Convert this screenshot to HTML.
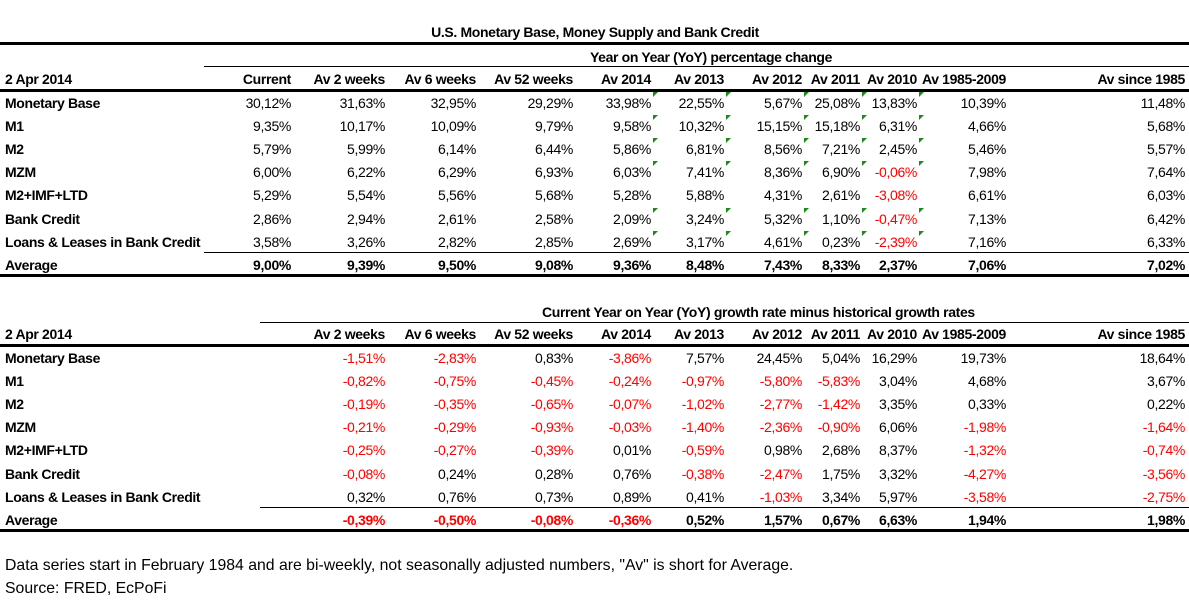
<!DOCTYPE html>
<html><head><meta charset="utf-8">
<style>
body{margin:0;background:#fff;}
#root{position:relative;width:1189px;height:601px;overflow:hidden;font-family:"Liberation Sans",sans-serif;font-size:14px;color:#000;letter-spacing:-0.35px;}
.t{position:absolute;white-space:nowrap;line-height:16px;}
.b{font-weight:bold;}
.r{color:#ff0000;}
.ln{position:absolute;background:#000;}
.tri{position:absolute;width:0;height:0;border-top:5px solid #1a8a1a;border-right:5px solid transparent;}
</style></head>
<body>
<div id="root"></div>
<script>
const columns1=["Current","Av 2 weeks","Av 6 weeks","Av 52 weeks","Av 2014","Av 2013","Av 2012","Av 2011","Av 2010","Av 1985-2009","Av since 1985"];
const columns2=columns1.slice(1);
const rowLabels=["Monetary Base","M1","M2","MZM","M2+IMF+LTD","Bank Credit","Loans & Leases in Bank Credit","Average"];
const values1=[
["30,12%","31,63%","32,95%","29,29%","33,98%","22,55%","5,67%","25,08%","13,83%","10,39%","11,48%"],
["9,35%","10,17%","10,09%","9,79%","9,58%","10,32%","15,15%","15,18%","6,31%","4,66%","5,68%"],
["5,79%","5,99%","6,14%","6,44%","5,86%","6,81%","8,56%","7,21%","2,45%","5,46%","5,57%"],
["6,00%","6,22%","6,29%","6,93%","6,03%","7,41%","8,36%","6,90%","-0,06%","7,98%","7,64%"],
["5,29%","5,54%","5,56%","5,68%","5,28%","5,88%","4,31%","2,61%","-3,08%","6,61%","6,03%"],
["2,86%","2,94%","2,61%","2,58%","2,09%","3,24%","5,32%","1,10%","-0,47%","7,13%","6,42%"],
["3,58%","3,26%","2,82%","2,85%","2,69%","3,17%","4,61%","0,23%","-2,39%","7,16%","6,33%"],
["9,00%","9,39%","9,50%","9,08%","9,36%","8,48%","7,43%","8,33%","2,37%","7,06%","7,02%"]];
const values2=[
["-1,51%","-2,83%","0,83%","-3,86%","7,57%","24,45%","5,04%","16,29%","19,73%","18,64%"],
["-0,82%","-0,75%","-0,45%","-0,24%","-0,97%","-5,80%","-5,83%","3,04%","4,68%","3,67%"],
["-0,19%","-0,35%","-0,65%","-0,07%","-1,02%","-2,77%","-1,42%","3,35%","0,33%","0,22%"],
["-0,21%","-0,29%","-0,93%","-0,03%","-1,40%","-2,36%","-0,90%","6,06%","-1,98%","-1,64%"],
["-0,25%","-0,27%","-0,39%","0,01%","-0,59%","0,98%","2,68%","8,37%","-1,32%","-0,74%"],
["-0,08%","0,24%","0,28%","0,76%","-0,38%","-2,47%","1,75%","3,32%","-4,27%","-3,56%"],
["0,32%","0,76%","0,73%","0,89%","0,41%","-1,03%","3,34%","5,97%","-3,58%","-2,75%"],
["-0,39%","-0,50%","-0,08%","-0,36%","0,52%","1,57%","0,67%","6,63%","1,94%","1,98%"]];
const triRows=[0,1,2,3,5,6];
const triCols=[4,5,6,7,8];

const root=document.getElementById('root');
const colRight=[291,385,476,573,651,724,802,860,917,1006,1185];
function txt(s,x,y,opts){
  const d=document.createElement('div');
  d.className='t'+(opts.cls?' '+opts.cls:'');
  d.textContent=s;
  d.style.top=(y-8)+'px';
  if(opts.align==='right'){d.style.right=(1189-x)+'px';}
  else if(opts.align==='center'){d.style.left=(x-200)+'px';d.style.width='400px';d.style.textAlign='center';}
  else d.style.left=x+'px';
  
  
  root.appendChild(d);return d;
}
function line(x,y,w,h,name){
  const d=document.createElement('div');d.className='ln';
  d.style.left=x+'px';d.style.top=y+'px';d.style.width=w+'px';d.style.height=h+'px';
  
  
  root.appendChild(d);
}
function table(vals,cols,colStart,headY,rowY0,name){
  txt("2 Apr 2014",5,headY,{cls:'b',name:name+'-date-label'});
  cols.forEach((c,i)=>{const k=i+colStart;txt(c,colRight[k],headY,{cls:'b',align:'right',name:name+'-col-header'});});
  rowLabels.forEach((lab,r)=>{
    const y=rowY0+r*23.1;const bold=r===rowLabels.length-1;
    txt(lab,5,y,{cls:'b',name:name+'-row-label'});
    vals[r].forEach((v,i)=>{const k=i+colStart;
      const cls=(bold?'b ':'')+(v.trim().startsWith('-')?'r':'');
      txt(v,colRight[k],y,{cls:cls,align:'right',name:name+'-cell'});
    });
  });
}
// Table 1
txt("U.S. Monetary Base, Money Supply and Bank Credit",595,32,{cls:'b',align:'center',name:'table-title'});
line(0,42,1189,3,'title-rule');
txt("Year on Year (YoY) percentage change",711,57,{cls:'b',align:'center',name:'top-subtitle'});
line(204,66,985,1,'subtitle-rule');
table(values1,columns1,0,79,103,'top');
line(0,89,1189,3,'top-header-rule');
line(204,252,985,1,'top-average-rule');
line(0,274,1189,3,'top-bottom-rule');
triRows.forEach(r=>triCols.forEach(k=>{
  const d=document.createElement('div');d.className='tri';
  d.style.left=(colRight[k]+2)+'px';d.style.top=(103+r*23.1-11)+'px';
  
  
  root.appendChild(d);
}));
// Table 2
txt("Current  Year on Year (YoY) growth rate minus historical growth rates",742,312,{cls:'b',align:'center',name:'bottom-subtitle'});
line(260,322,929,1,'bottom-subtitle-rule');
table(values2,columns2,1,334,358,'bottom');
line(0,344,1189,3,'bottom-header-rule');
line(260,507,929,1,'bottom-average-rule');
line(0,529,1189,3,'bottom-bottom-rule');
// Footer
const f1=txt('Data series start in February 1984 and are bi-weekly, not seasonally adjusted numbers, "Av" is short for Average.',5,566,{name:'footnote'});
f1.style.fontSize='15.8px';f1.style.letterSpacing='0px';
const f2=txt('Source: FRED, EcPoFi',5,589,{name:'source-note'});
f2.style.fontSize='15.8px';f2.style.letterSpacing='0px';
</script>
</body></html>
